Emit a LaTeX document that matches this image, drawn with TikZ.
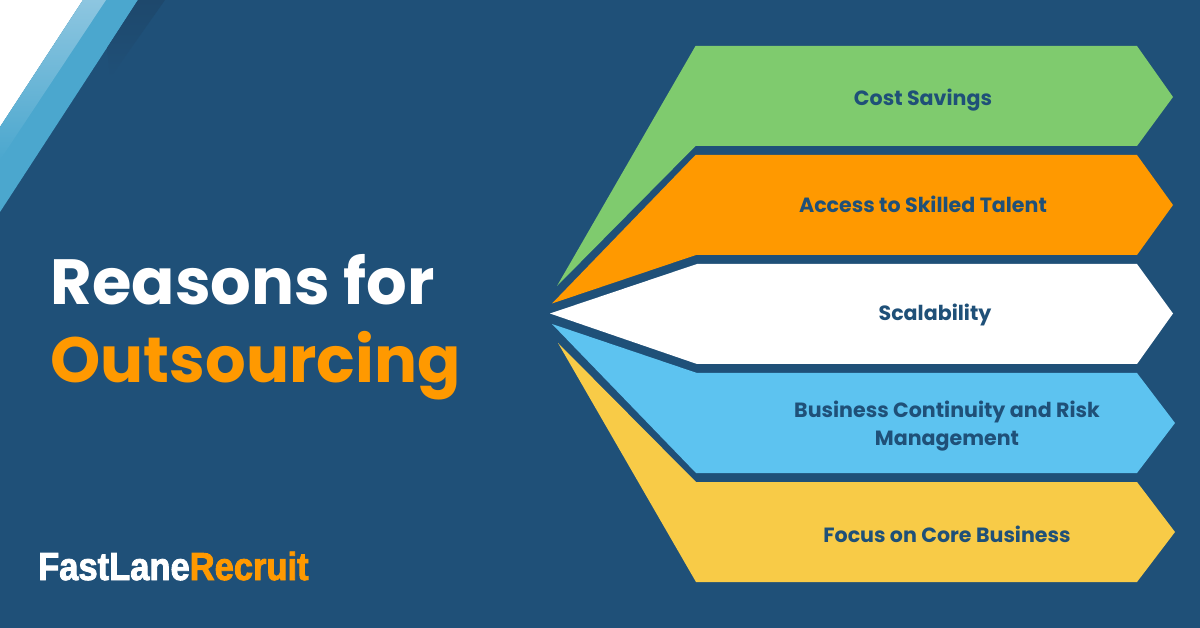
\documentclass[tikz,border=0pt]{standalone}
\usepackage{fontspec}
\setmainfont{Poppins}
\newfontfamily\logofont[FakeStretch=0.885,BoldFeatures={FakeBold=2.2}]{Liberation Sans}
\definecolor{navy}{HTML}{1F5078}
\definecolor{navyd}{HTML}{1E486C}
\definecolor{gr}{HTML}{7FCB6E}
\definecolor{orng}{HTML}{FF9900}
\definecolor{sky}{HTML}{5DC3F0}
\definecolor{yel}{HTML}{F8CB47}
\definecolor{stripe}{HTML}{4BA7CE}
\definecolor{stripel}{HTML}{8DC6E0}
\tikzset{
  lbl/.style={font=\bfseries\fontsize{20.6}{28}\selectfont,text=navy,align=center,inner sep=0pt},
  title/.style={font=\bfseries\fontsize{63.9}{72}\selectfont,anchor=base west,inner sep=0pt},
}
\begin{document}
\begin{tikzpicture}[x=1pt,y=-1pt]
\useasboundingbox (0,0) rectangle (1200,628);
\fill[navy] (0,0) rectangle (1200,628);
% corner
\fill[white] (0,0) -- (83,0) -- (0,127) -- cycle;
\fill[stripe] (83,0) -- (138,0) -- (0,212) -- (0,127) -- cycle;
\path[top color=stripel,bottom color=stripe] (83,0) -- (106,0) -- (0,160) -- (0,127) -- cycle;
\path[top color=navyd,bottom color=navy] (138,0) -- (165,0) -- (110,78) -- (107,48) -- cycle;
% arrows
\fill[gr] (695.5,46) -- (1137,46) -- (1173,97) -- (1137,146) -- (695.5,146) -- (557,286) -- cycle;
\fill[orng] (695.5,155) -- (1137,155) -- (1173,205) -- (1137,255) -- (696,255) -- (552,303.5) -- cycle;
\fill[white] (697,264) -- (1137,264) -- (1173,313.5) -- (1137,364) -- (697,364) -- (550,313.5) -- cycle;
\fill[sky] (697,373) -- (1137,373) -- (1175,423) -- (1137,473) -- (696,473) -- (552,324) -- cycle;
\fill[yel] (696,482) -- (1137,482) -- (1175,532) -- (1137,582) -- (696,582) -- (558,343) -- cycle;
% labels
\node[lbl] (a) at (923,100.5) {Cost Savings};
\node[lbl] (b) at (923,204) {Access to Skilled Talent};
\node[lbl] (c) at (935,315) {Scalability};
\node[lbl] (d) at (947,426.5) {Business Continuity and Risk\\Management};
\node[lbl] (e) at (947,534) {Focus on Core Business};
% title
\node[title,text=white] (t1) at (50.5,305) {Reasons for};
\node[title,text=orng] (t2) at (50.5,382) {Outsourcing};
% logo
\node[anchor=base west,inner sep=0pt,font=\logofont\bfseries\fontsize{39}{39}\selectfont] (l) at (38,580)
  {\textcolor{white}{FastLane}\textcolor{orng}{Recruit}};
\end{tikzpicture}
\end{document}
